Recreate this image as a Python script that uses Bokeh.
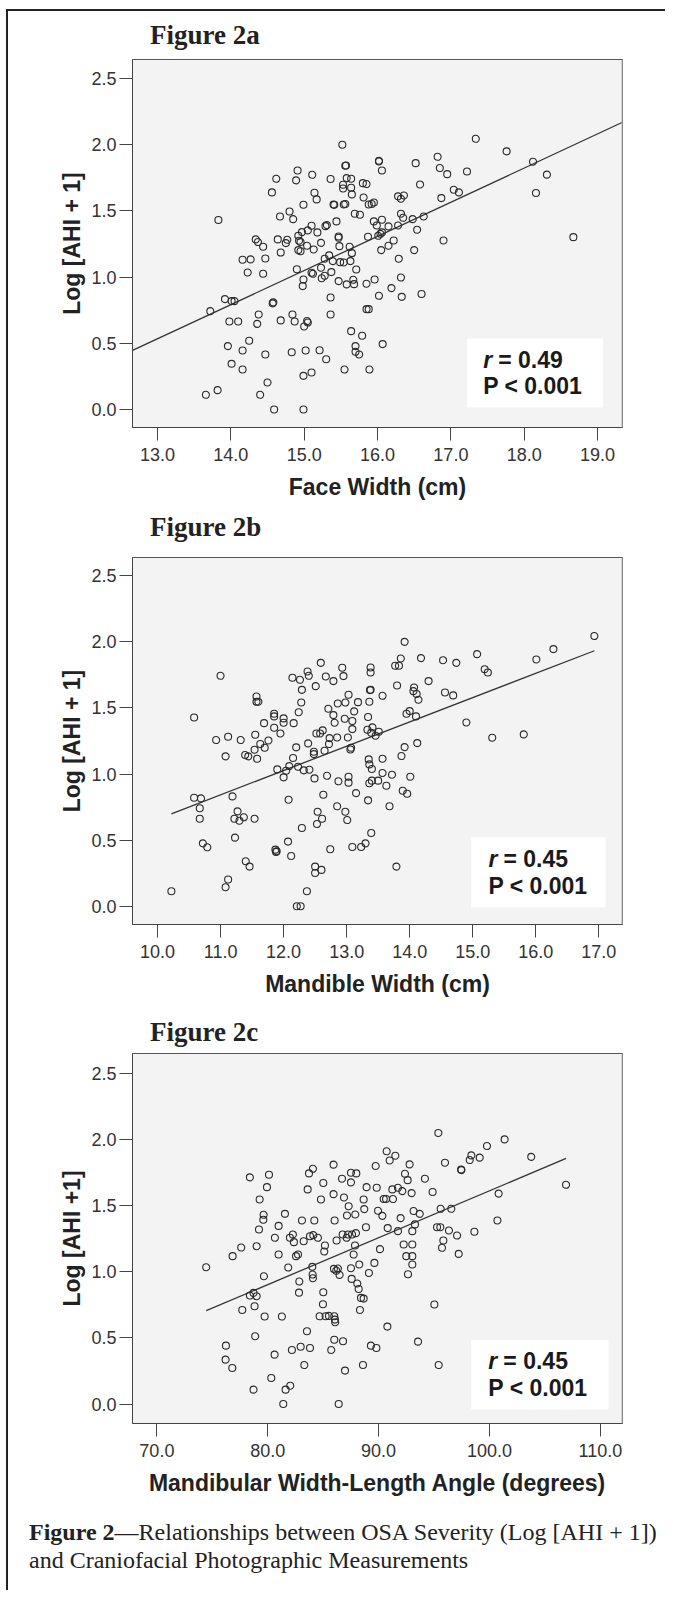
from bokeh.plotting import figure
from bokeh.models import FixedTicker, NumeralTickFormatter, BoxAnnotation, Label, Div, Range1d, Span
from bokeh.layouts import column
from bokeh.embed import file_html
from bokeh.resources import INLINE

# ---------------- data ----------------
# Figure 2a: Face width (cm) vs Log[AHI+1]
face_width = [15.52, 17.34, 14.91, 15.11, 14.62, 14.89, 15.36, 15.56, 15.57, 15.58, 15.64, 15.53, 15.53, 15.64, 15.80, 15.85,
              16.02, 16.02, 16.06, 16.52, 16.82, 16.85, 16.95, 17.22, 16.58, 14.56, 15.14, 15.17, 14.99, 15.40, 15.41, 15.54,
              15.56, 15.65, 15.81, 15.88, 15.92, 15.95, 16.28, 16.32, 16.36, 16.87, 17.04, 17.11, 14.80, 14.67, 14.85, 15.69,
              15.76, 15.44, 15.31, 15.29, 15.10, 15.05, 15.18, 14.97, 14.92, 15.95, 15.99, 16.06, 16.01, 16.04, 16.06, 16.15,
              16.28, 16.32, 16.35, 16.48, 16.63, 16.54, 16.22, 16.90, 14.34, 14.37, 14.44, 14.64, 14.77, 14.75, 14.93, 14.95,
              15.47, 15.47, 15.48, 15.23, 15.04, 15.13, 15.62, 15.87, 16.15, 16.05, 16.50, 14.92, 14.95, 14.68, 14.16, 14.27,
              14.47, 15.28, 15.34, 15.39, 15.49, 15.54, 15.63, 15.65, 16.29, 14.23, 14.44, 14.90, 15.10, 15.12, 15.23, 15.24,
              15.28, 15.37, 15.71, 14.99, 14.98, 15.47, 15.58, 15.68, 15.67, 15.85, 15.96, 16.32, 16.19, 16.02, 16.33, 16.60,
              13.92, 14.01, 14.05, 13.72, 14.58, 14.57, 15.36, 15.36, 15.85, 15.88, 14.38, 14.84, 13.98, 14.10, 14.36, 14.68,
              14.87, 15.04, 15.05, 15.00, 15.64, 15.79, 14.25, 13.96, 14.16, 14.47, 14.83, 15.02, 15.21, 15.30, 15.70, 15.70,
              15.75, 16.07, 14.01, 14.16, 15.55, 15.89, 14.99, 15.10, 14.50, 13.66, 13.82, 14.40, 14.59, 14.99, 18.67, 17.76,
              18.12, 18.31, 18.16, 13.83]
face_log_ahi = [2.000, 2.045, 1.806, 1.773, 1.743, 1.731, 1.741, 1.841, 1.843, 1.748, 1.743, 1.698, 1.670, 1.675, 1.710, 1.703,
                1.879, 1.874, 1.806, 1.861, 1.909, 1.824, 1.778, 1.798, 1.700, 1.640, 1.637, 1.587, 1.547, 1.549, 1.546, 1.549,
                1.552, 1.625, 1.602, 1.549, 1.552, 1.564, 1.610, 1.592, 1.617, 1.597, 1.660, 1.640, 1.496, 1.458, 1.438, 1.479,
                1.471, 1.421, 1.393, 1.385, 1.388, 1.353, 1.338, 1.340, 1.312, 1.421, 1.390, 1.433, 1.312, 1.327, 1.338, 1.383,
                1.390, 1.479, 1.448, 1.438, 1.458, 1.358, 1.277, 1.277, 1.285, 1.265, 1.229, 1.285, 1.282, 1.257, 1.275, 1.265,
                1.307, 1.297, 1.234, 1.259, 1.237, 1.209, 1.229, 1.305, 1.237, 1.204, 1.204, 1.204, 1.196, 1.186, 1.131, 1.134,
                1.141, 1.139, 1.164, 1.121, 1.113, 1.111, 1.121, 1.181, 1.139, 1.035, 1.025, 1.060, 1.033, 1.025, 1.071, 0.992,
                1.010, 1.038, 1.058, 0.982, 0.932, 0.970, 0.945, 0.947, 0.980, 0.950, 0.982, 0.997, 0.917, 0.859, 0.851, 0.872,
                0.834, 0.819, 0.819, 0.743, 0.809, 0.802, 0.846, 0.718, 0.758, 0.758, 0.718, 0.718, 0.665, 0.665, 0.647, 0.673,
                0.665, 0.668, 0.657, 0.627, 0.592, 0.557, 0.519, 0.479, 0.446, 0.416, 0.433, 0.446, 0.448, 0.380, 0.479, 0.436,
                0.416, 0.494, 0.345, 0.302, 0.302, 0.302, 0.254, 0.280, 0.204, 0.111, 0.146, 0.111, 0.000, 0.000, 1.302, 1.950,
                1.872, 1.774, 1.635, 1.431]

# Figure 2b: Mandible width (cm) vs Log[AHI+1]
mand_width = [10.22, 10.58, 11.00, 10.93, 11.12, 11.08, 11.32, 11.39, 11.44, 11.55, 11.54, 11.58, 11.57, 11.60, 11.57, 11.63,
              11.70, 11.69, 11.76, 11.85, 11.85, 11.85, 12.00, 12.00, 11.95, 12.16, 12.24, 12.14, 12.26, 12.28, 12.38, 12.40,
              12.29, 12.51, 12.59, 12.67, 12.79, 12.93, 12.95, 13.03, 12.98, 12.86, 12.71, 12.79, 12.81, 13.12, 13.18, 12.97,
              13.09, 13.09, 13.38, 13.38, 13.37, 13.38, 13.36, 13.57, 13.34, 13.33, 13.41, 13.46, 13.51, 13.39, 13.80, 13.77,
              13.86, 13.83, 13.92, 14.18, 14.30, 14.07, 14.06, 14.11, 14.14, 13.95, 14.00, 14.10, 14.53, 14.74, 15.07, 14.56,
              14.69, 14.90, 15.19, 15.24, 15.31, 13.92, 14.12, 13.87, 14.01, 13.89, 13.96, 13.68, 13.72, 13.57, 13.57, 13.63,
              13.50, 13.35, 13.36, 13.40, 13.40, 13.36, 13.34, 13.39, 13.30, 13.23, 13.09, 13.79, 13.15, 13.03, 13.03, 13.07,
              13.06, 12.98, 13.01, 12.85, 12.87, 12.69, 12.63, 12.85, 13.02, 12.73, 12.72, 12.62, 12.58, 12.52, 12.65, 12.48,
              12.48, 12.39, 12.20, 12.15, 12.09, 12.04, 12.00, 11.90, 12.23, 12.32, 12.41, 12.49, 12.08, 12.29, 12.54, 12.53,
              12.61, 12.74, 12.07, 12.12, 12.50, 12.50, 12.60, 12.37, 12.21, 12.27, 11.87, 11.88, 11.89, 10.58, 10.69, 10.67,
              10.67, 10.72, 10.79, 11.19, 11.27, 11.22, 11.30, 11.37, 11.54, 11.23, 11.40, 11.46, 11.12, 11.08, 16.01, 16.28,
              16.93, 15.81]
mand_log_ahi = [0.113, 1.428, 1.743, 1.257, 1.282, 1.134, 1.257, 1.144, 1.134, 1.297, 1.184, 1.116, 1.587, 1.547, 1.547, 1.227,
                1.199, 1.385, 1.254, 1.456, 1.436, 1.350, 1.421, 1.388, 1.307, 1.385, 1.468, 1.728, 1.713, 1.541, 1.776, 1.743,
                1.637, 1.665, 1.841, 1.738, 1.703, 1.804, 1.741, 1.600, 1.541, 1.534, 1.494, 1.446, 1.388, 1.474, 1.544, 1.418,
                1.401, 1.340, 1.806, 1.768, 1.635, 1.637, 1.547, 1.592, 1.431, 1.335, 1.353, 1.290, 1.320, 1.312, 1.670, 1.819,
                1.874, 1.819, 2.000, 1.877, 1.703, 1.655, 1.627, 1.605, 1.562, 1.456, 1.476, 1.436, 1.861, 1.841, 1.907, 1.617,
                1.595, 1.390, 1.793, 1.768, 1.275, 1.204, 1.234, 1.136, 0.980, 0.874, 0.851, 0.756, 0.995, 1.116, 1.008, 0.912,
                0.950, 1.111, 1.073, 1.038, 0.950, 0.930, 0.801, 0.554, 0.476, 0.448, 0.448, 0.300, 0.856, 0.980, 0.935, 1.199,
                1.186, 0.715, 0.652, 0.756, 0.945, 0.987, 0.844, 1.277, 1.277, 1.272, 1.227, 1.330, 1.307, 1.307, 1.176, 1.169,
                1.151, 1.232, 1.202, 1.121, 1.060, 1.025, 0.975, 1.035, 1.055, 1.028, 1.033, 0.967, 0.806, 0.592, 0.715, 0.622,
                0.662, 0.431, 0.489, 0.380, 0.300, 0.252, 0.275, 0.113, 0.000, 0.000, 0.428, 0.411, 0.416, 0.821, 0.816, 0.741,
                0.662, 0.476, 0.446, 0.831, 0.718, 0.662, 0.647, 0.673, 0.662, 0.519, 0.340, 0.300, 0.202, 0.144, 1.867, 1.945,
                2.044, 1.300]

# Figure 2c: Mandibular width-length angle (degrees) vs Log[AHI+1]
angle_deg = [74.45, 76.23, 76.20, 76.80, 76.83, 77.61, 78.39, 80.11, 79.93, 79.27, 79.63, 79.60, 79.21, 79.00, 79.66, 78.39,
             78.72, 79.00, 77.70, 78.81, 79.72, 81.28, 78.87, 80.62, 80.32, 78.72, 81.61, 82.03, 81.40, 86.40, 81.55, 80.98,
             80.65, 82.00, 82.27, 82.36, 80.98, 81.85, 82.55, 82.73, 83.09, 83.60, 83.72, 84.08, 84.20, 83.24, 83.81, 84.11,
             84.53, 84.02, 84.05, 84.08, 82.85, 82.82, 85.01, 84.80, 85.94, 86.70, 87.51, 87.99, 87.51, 87.30, 86.88, 85.94,
             87.15, 87.90, 86.03, 86.76, 87.24, 87.60, 87.96, 86.21, 87.12, 87.87, 87.75, 85.16, 85.10, 85.97, 86.18, 86.48,
             86.33, 87.51, 88.26, 85.01, 84.98, 84.68, 85.22, 85.52, 86.00, 86.09, 86.06, 87.57, 88.08, 88.20, 88.41, 88.65,
             88.32, 83.54, 82.97, 83.81, 82.18, 83.30, 85.73, 86.00, 86.79, 86.97, 88.59, 89.31, 89.80, 90.79, 93.56, 95.03,
             95.42, 89.74, 90.73, 91.00, 91.51, 92.80, 92.38, 92.62, 94.18, 94.87, 92.98, 88.92, 89.83, 88.65, 88.71, 89.95,
             90.34, 90.46, 90.67, 91.30, 91.24, 91.75, 92.14, 91.99, 90.82, 91.75, 93.16, 93.71, 93.28, 93.04, 92.26, 93.04,
             92.50, 93.04, 93.04, 92.65, 90.13, 89.62, 89.13, 95.27, 95.57, 95.60, 96.56, 95.84, 95.72, 96.35, 97.08, 97.23,
             98.64, 95.99, 97.44, 97.47, 98.22, 98.37, 99.12, 95.39, 99.78, 101.37, 103.77, 106.91, 100.83, 100.72, 88.86]
angle_log_ahi = [1.035, 0.442, 0.336, 0.273, 1.119, 1.184, 1.715, 1.735, 1.641, 1.548, 1.432, 1.394, 1.321, 1.194, 0.967, 0.821,
                 0.841, 0.816, 0.712, 0.740, 0.662, 0.662, 0.513, 0.374, 0.197, 0.109, 0.109, 0.139, 0.000, 0.000, 1.439, 1.348,
                 1.258, 1.258, 1.283, 1.225, 1.131, 1.033, 1.119, 1.131, 1.389, 1.624, 1.745, 1.780, 1.389, 1.232, 1.270, 1.278,
                 1.258, 1.038, 0.980, 0.952, 0.927, 0.843, 1.672, 1.548, 1.811, 1.705, 1.750, 1.745, 1.677, 1.497, 1.563, 1.588,
                 1.427, 1.434, 1.389, 1.283, 1.283, 1.283, 1.293, 1.237, 1.258, 1.199, 1.131, 1.199, 1.154, 1.023, 1.008, 0.977,
                 1.025, 1.028, 1.056, 0.846, 0.755, 0.664, 0.664, 0.667, 0.664, 0.619, 0.639, 0.947, 0.912, 0.871, 0.803, 0.798,
                 0.712, 0.551, 0.434, 0.424, 0.409, 0.295, 0.409, 0.487, 0.475, 0.253, 0.295, 0.442, 0.424, 0.586, 0.472, 0.753,
                 0.295, 1.801, 1.912, 1.843, 1.879, 1.813, 1.742, 1.694, 1.705, 1.604, 1.596, 1.641, 1.636, 1.548, 1.475, 1.462,
                 1.424, 1.551, 1.551, 1.551, 1.624, 1.636, 1.611, 1.407, 1.331, 1.308, 1.460, 1.439, 1.359, 1.308, 1.207, 1.207,
                 1.119, 1.119, 1.056, 0.982, 1.172, 1.068, 0.992, 1.338, 1.338, 1.477, 1.477, 1.237, 1.182, 1.313, 1.275, 1.136,
                 1.303, 1.826, 1.775, 1.770, 1.846, 1.881, 1.864, 2.051, 1.952, 2.002, 1.870, 1.659, 1.592, 1.389, 1.338]

# regression fits (intercept, slope) and statistics
fit_face = (-2.820, 0.258)
fit_mand = (-1.179, 0.1838)
fit_angle = (-1.934, 0.03547)
stats_r = ["0.49", "0.45", "0.45"]
stats_p = "P < 0.001"

titles = ["Figure 2a", "Figure 2b", "Figure 2c"]
x_labels = ["Face Width (cm)", "Mandible Width (cm)", "Mandibular Width-Length Angle (degrees)"]
y_labels = ["Log [AHI + 1]", "Log [AHI + 1]", "Log [AHI +1]"]
y_ticks = [0.0, 0.5, 1.0, 1.5, 2.0, 2.5]
x_ticks_face = [13.0, 14.0, 15.0, 16.0, 17.0, 18.0, 19.0]
x_ticks_mand = [10.0, 11.0, 12.0, 13.0, 14.0, 15.0, 16.0, 17.0]
x_ticks_angle = [70.0, 80.0, 90.0, 100.0, 110.0]

SANS = "Liberation Sans"
SERIF = "Liberation Serif"
INK = "#222222"


def title_div(text, height, pad_top):
    return Div(text=f'<div style="padding-left:142px; padding-top:{pad_top}px; line-height:32px;">{text}</div>',
               width=600, height=height, margin=0,
               styles={"font-family": SERIF, "font-size": "27px", "font-weight": "bold",
                       "color": INK, "white-space": "nowrap"})


def panel(xs, ys, xr, yr, xticks, xlabel, ylabel, fit, full_line, box, txt, rtxt,
          border_top, frame_h, border_bottom):
    p = figure(x_range=Range1d(*xr), y_range=Range1d(*yr),
               frame_width=490, frame_height=frame_h,
               min_border_left=124, min_border_right=43,
               min_border_top=border_top, min_border_bottom=border_bottom,
               output_backend="svg", toolbar_location=None)
    p.background_fill_color = "#f3f3f3"
    p.border_fill_color = "white"
    p.outline_line_color = "#555555"
    p.grid.visible = False

    for ax in (p.xaxis, p.yaxis):
        ax.major_tick_in = 0
        ax.major_tick_out = 13
        ax.minor_tick_line_color = None
        ax.major_tick_line_color = "#444444"
        ax.axis_line_color = "#444444"
        ax.major_label_text_font = SANS
        ax.major_label_text_font_size = "18px"
        ax.major_label_text_color = "#333333"
        ax.axis_label_text_font = SANS
        ax.axis_label_text_font_style = "bold"
        ax.axis_label_text_color = INK
        ax.formatter = NumeralTickFormatter(format="0.0")
    p.xaxis.ticker = FixedTicker(ticks=xticks)
    p.yaxis.ticker = FixedTicker(ticks=y_ticks)
    p.xaxis.axis_label = xlabel
    p.yaxis.axis_label = ylabel
    p.xaxis.axis_label_text_font_size = "23px"
    p.yaxis.axis_label_text_font_size = "23px"
    p.xaxis.major_label_standoff = 7
    p.yaxis.major_label_standoff = 3
    p.xaxis.axis_label_standoff = 10
    p.yaxis.axis_label_standoff = 3

    # light shadow on the right edge of the frame
    p.add_layout(Span(location=xr[1], dimension="height", line_color="#b5b5b5", line_width=2))

    # fit line
    if full_line:
        lx = [xr[0], xr[1]]
    else:
        lx = [min(xs), max(xs)]
    ly = [fit[0] + fit[1] * v for v in lx]
    p.line(lx, ly, line_color="#333333", line_width=1.3)

    p.scatter(xs, ys, marker="circle", size=7, fill_color=None,
              line_color="#2a2a2a", line_width=1.1)

    p.add_layout(BoxAnnotation(left=box[0], right=box[1], bottom=box[2], top=box[3],
                               fill_color="white", fill_alpha=1.0, line_color=None))
    common = dict(text_font=SANS, text_font_size="23px", text_color="#1a1a1a",
                  text_baseline="middle")
    p.add_layout(Label(x=txt[0], y=txt[1], text="r", text_font_style="bold italic", **common))
    p.add_layout(Label(x=txt[0], y=txt[1], x_offset=15, text="= " + rtxt,
                       text_font_style="bold", **common))
    p.add_layout(Label(x=txt[0], y=txt[2], text=stats_p, text_font_style="bold", **common))
    return p


t1 = title_div(titles[0], 41, 8)
p1 = panel(face_width, face_log_ahi, (12.659, 19.34), (-0.136, 2.644), x_ticks_face,
           x_labels[0], y_labels[0], fit_face, True,
           (17.218, 19.075, 0.015, 0.537), (17.44, 0.376, 0.181), stats_r[0],
           7, 368, 78)
t2 = title_div(titles[1], 43, 6)
p2 = panel(mand_width, mand_log_ahi, (9.603, 17.376), (-0.138, 2.638), x_ticks_mand,
           x_labels[1], y_labels[1], fit_mand, False,
           (14.976, 17.106, -0.008, 0.522), (15.249, 0.358, 0.150), stats_r[1],
           9, 367, 76)
t3 = title_div(titles[2], 48, 16)
p3 = panel(angle_deg, angle_log_ahi, (67.8, 112.0), (-0.147, 2.652), x_ticks_angle,
           x_labels[2], y_labels[2], fit_angle, False,
           (98.35, 110.73, -0.041, 0.485), (99.90, 0.3235, 0.121), stats_r[2],
           5, 370, 77)

caption = Div(
    text="<b>Figure 2</b>\u2014Relationships between OSA Severity (Log [AHI + 1])<br>"
         "and Craniofacial Photographic Measurements",
    width=655, height=90, margin=0,
    styles={"font-family": SERIF, "font-size": "24px", "line-height": "28px",
            "color": INK, "padding-left": "21px", "padding-top": "18px",
            "white-space": "nowrap"})

layout = column(t1, p1, t2, p2, t3, p3, caption, margin=(9, 0, 0, 6),
                styles={"border-top": "2px solid #222", "border-left": "2px solid #222"})

open("out.html", "w").write(file_html(layout, INLINE))
